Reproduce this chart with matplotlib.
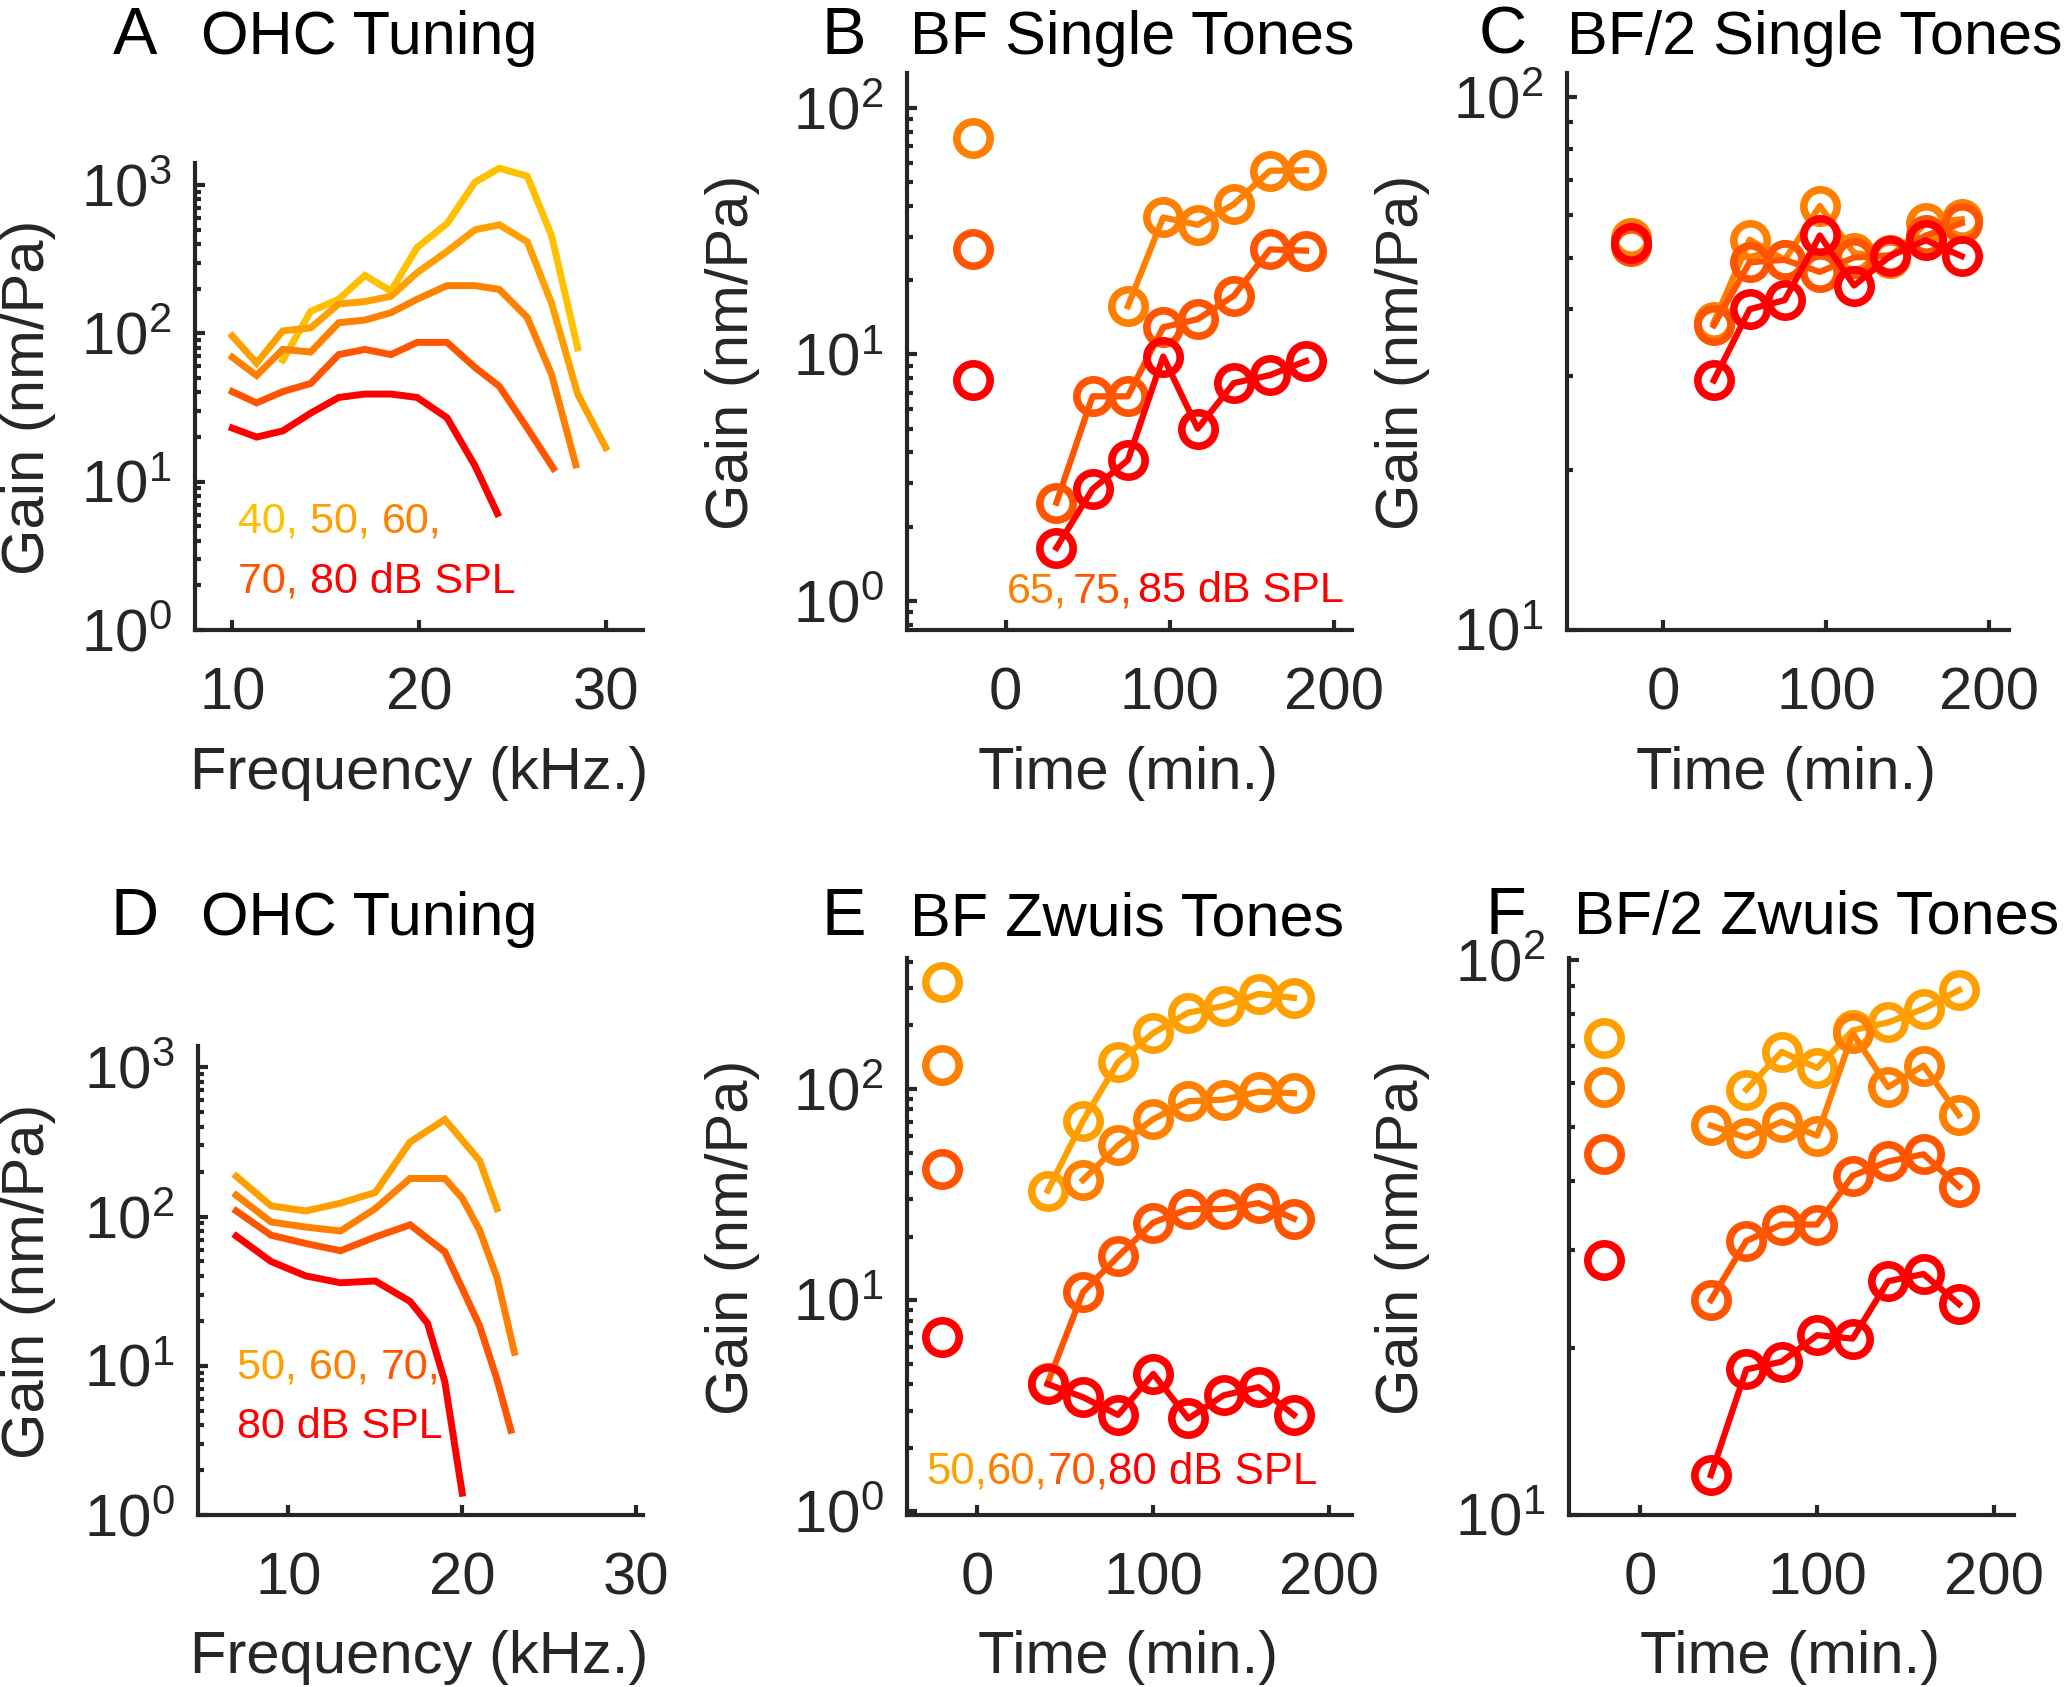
import matplotlib
matplotlib.use('Agg')
import matplotlib.pyplot as plt
from matplotlib.ticker import LogLocator, NullFormatter, FixedLocator

plt.rcParams['font.family'] = ['Liberation Sans', 'DejaVu Sans']
plt.rcParams['mathtext.fontset'] = 'custom'
plt.rcParams['mathtext.rm'] = 'Liberation Sans'
plt.rcParams['mathtext.it'] = 'Liberation Sans:italic'
plt.rcParams['mathtext.bf'] = 'Liberation Sans:bold'

# ---------------- colours ----------------
C40, C50, C60, C70, C80 = '#FFC000', '#FFA000', '#FF8000', '#FF5500', '#FF0000'

# ---------------- Panel A: OHC tuning (single tones) ----------------
freqA_40 = [12.7, 14.2, 15.7, 17.1, 18.5, 19.9, 21.5, 23.0, 24.3, 25.8, 27.1, 28.5]
gainA_40 = [66, 141, 170, 246, 193, 380, 550, 1045, 1300, 1150, 457, 80]
freqA_50 = [10, 11.3, 12.7, 14.2, 15.7, 17.1, 18.5, 19.9, 21.5, 23.0, 24.3, 25.8, 27.1, 28.5, 30.0]
gainA_50 = [96, 63, 104, 109, 158, 164, 178, 257, 357, 500, 540, 415, 160, 39, 17]
freqA_60 = [10, 11.3, 12.7, 14.2, 15.7, 17.1, 18.5, 19.9, 21.5, 23.0, 24.3, 25.8, 27.1, 28.4]
gainA_60 = [69, 52, 78, 75, 118, 123, 138, 170, 210, 210, 198, 128, 53, 13]
freqA_70 = [10, 11.3, 12.7, 14.2, 15.7, 17.1, 18.5, 19.9, 21.5, 23.0, 24.3, 25.8, 27.2]
gainA_70 = [40.5, 34, 40.5, 46, 72, 78, 72, 87, 87, 59, 44, 23, 12.3]
freqA_80 = [10, 11.3, 12.7, 14.2, 15.7, 17.1, 18.5, 19.9, 21.5, 23.0, 24.2]
gainA_80 = [23, 20, 22, 29, 37, 39, 39, 37, 27, 12.8, 6.1]

# ---------------- Panel D: OHC tuning (zwuis) ----------------
freqD_50 = [7, 9, 11, 13, 15, 17, 19, 21, 22]
gainD_50 = [186, 118, 109, 123, 145, 316, 447, 237, 113]
freqD_60 = [7, 9, 11, 13, 15, 17, 19, 20, 21, 22, 23]
gainD_60 = [139, 92, 85, 80, 113, 180, 180, 133, 81, 39, 12.3]
freqD_70 = [7, 9, 11, 13, 15, 17, 19, 20, 21, 22, 22.8]
gainD_70 = [109, 75, 66, 59, 73, 88, 58, 33, 18.5, 8.1, 3.7]
freqD_80 = [7, 9, 11, 13, 15, 17, 18, 19, 20]
gainD_80 = [74, 50, 40, 36, 37, 27, 19.3, 7.8, 1.4]

# ---------------- Panels B, C: single tones vs time ----------------
t_pre = -20
t_single = [31, 53, 74.5, 96, 117, 139, 161, 183]
B_65_pre, B_75_pre, B_85_pre = 76, 26.7, 7.84
B_65 = [None, None, 15.7, 36, 33.6, 40.7, 55.7, 56]
B_75 = [2.5, 6.76, 6.76, 12.9, 13.9, 17.3, 26.7, 26.4]
B_85 = [1.64, 2.84, 3.72, 9.8, 5.0, 7.65, 8.24, 9.4]

C_65_pre, C_75_pre, C_85_pre = 54.5, 52.6, 53.2
C_65 = [37.8, 54, 49.5, 62.5, 51, 50, 58, 59]
C_75 = [37.3, 49, 49.5, 47, 50, 50.5, 55, 58]
C_85 = [29.4, 40, 41.6, 55, 44.3, 50.3, 53.9, 50.3]

# ---------------- Panels E, F: zwuis tones vs time ----------------
t_zwuis = [40, 60, 80, 100, 120, 140, 160, 180]
E_50_pre, E_60_pre, E_70_pre, E_80_pre = 321, 130, 41.7, 6.7
E_50 = [33, 70.5, 134, 184, 230, 247, 282, 270]
E_60 = [None, 37, 54, 72, 87.5, 89, 97, 95.5]
E_70 = [4.05, 10.9, 16.1, 23.3, 27, 27, 28.8, 24.3]
E_80 = [4.0, 3.47, 2.86, 4.47, 2.75, 3.54, 3.87, 2.86]

F_50_pre, F_60_pre, F_70_pre, F_80_pre = 72.6, 59.1, 44.7, 28.8
F_50 = [None, 58.5, 68.4, 64, 74.8, 77.3, 81.8, 88.4]
F_60 = [50.4, 47.9, 51.2, 48.3, 73.9, 59.1, 64.6, 52.6]
F_70 = [24.4, 31.2, 33.4, 33.4, 40.9, 43.4, 44.7, 39.1]
F_80 = [11.8, 18.3, 18.9, 21.1, 20.8, 26.4, 27.2, 24]

# ---------------- figure ----------------
W, H = 2070, 1687
fig = plt.figure(figsize=(W / 100, H / 100), dpi=100)
GREY = '#262626'


def fx(x):
    return x / W


def fy(y):
    return 1 - y / H


def make_ax(x0, x1, ytop, ybot):
    return fig.add_axes([fx(x0), fy(ybot), (x1 - x0) / W, (ybot - ytop) / H])


def style(ax, xlim, ylim, xticks, yticks):
    ax.set_yscale('log')
    ax.set_xlim(*xlim)
    ax.set_ylim(*ylim)
    ax.patch.set_alpha(0)
    for s in ['top', 'right']:
        ax.spines[s].set_visible(False)
    for s in ['left', 'bottom']:
        ax.spines[s].set_linewidth(3)
        ax.spines[s].set_color(GREY)
    ax.xaxis.set_major_locator(FixedLocator(xticks))
    ax.yaxis.set_major_locator(FixedLocator(yticks))
    ax.yaxis.set_minor_locator(LogLocator(base=10, subs=range(2, 10), numticks=20))
    ax.yaxis.set_minor_formatter(NullFormatter())
    ax.tick_params(which='both', direction='in', colors=GREY, width=3)
    ax.tick_params(which='major', length=7, labelsize=43)
    ax.tick_params(which='minor', length=4)
    ax.tick_params(axis='x', pad=26)
    ax.tick_params(axis='y', pad=17)


def labels(ax, xlab, xpos, ypos):
    ax.set_xlabel(xlab, fontsize=43, color=GREY, va='baseline', ha='center')
    ax.xaxis.set_label_coords(fx(xpos[0]), fy(xpos[1]), transform=fig.transFigure)
    ax.set_ylabel('Gain (nm/Pa)', fontsize=43, color=GREY, va='center', ha='center')
    ax.yaxis.set_label_coords(fx(ypos[0]), fy(ypos[1]), transform=fig.transFigure)


def title(letter, text, xl, xt, y):
    fig.text(fx(xl), fy(y), letter, fontsize=48, color='black', ha='center', va='baseline')
    fig.text(fx(xt), fy(y), text, fontsize=44, color='black', ha='left', va='baseline')


def rainbow(ax, x, y, parts, colors, size=31, gap=0):
    t = ax.text(fx(x), fy(y), parts[0], color=colors[0], fontsize=size,
                ha='left', va='center', transform=fig.transFigure)
    for p, c in zip(parts[1:], colors[1:]):
        t = ax.annotate(p, xy=(1, 0.5), xycoords=t, xytext=(gap, 0),
                        textcoords='offset points', color=c, fontsize=size,
                        ha='left', va='center', annotation_clip=False)


LW = 5
MK = dict(marker='o', mfc='none', ms=24, mew=5.5)


def series(ax, t, vals, pre, color):
    pts = [(ti, v) for ti, v in zip(t, vals) if v is not None]
    ax.plot([p[0] for p in pts], [p[1] for p in pts], '-', color=color, lw=4.5, **MK)
    ax.plot([t_pre], [pre], linestyle='none', color=color, **MK)


ROW1_TOP_A, ROW1_TOP, ROW1_BOT = 163, 73, 630
ROW2_TOP_D, ROW2_TOP, ROW2_BOT = 1046, 958, 1515
XL1, XL2 = 789, 1673          # x-label baselines
T1, T2 = 54, 935              # title baselines

# ---- A ----
axA = make_ax(195, 643, ROW1_TOP_A, ROW1_BOT)
style(axA, (8, 32), (1, 1410), [10, 20, 30], [1, 10, 100, 1000])
for f, g, c in [(freqA_40, gainA_40, C40), (freqA_50, gainA_50, C50), (freqA_60, gainA_60, C60),
                (freqA_70, gainA_70, C70), (freqA_80, gainA_80, C80)]:
    axA.plot(f, g, color=c, lw=LW, solid_joinstyle='miter')
labels(axA, 'Frequency (kHz.)', (419, XL1), (29, 397))
title('A', 'OHC Tuning', 135, 201, T1)
rainbow(axA, 238, 522, ['40, ', '50, ', '60,'], [C40, C50, C60])
rainbow(axA, 238, 582, ['70, ', '80 dB SPL'], [C70, C80])

# ---- B ----
axB = make_ax(907, 1352, ROW1_TOP, ROW1_BOT)
style(axB, (-60, 211), (0.76, 139), [0, 100, 200], [1, 10, 100])
series(axB, t_single, B_65, B_65_pre, C60)
series(axB, t_single, B_75, B_75_pre, C70)
series(axB, t_single, B_85, B_85_pre, C80)
labels(axB, 'Time (min.)', (1128, XL1), (733, 352))
title('B', 'BF Single Tones', 844, 910, T1)
rainbow(axB, 1007, 591, ['65,', '75,', '85 dB SPL'], [C60, C70, C80], gap=4)

# ---- C ----
axC = make_ax(1567, 2009, ROW1_TOP, ROW1_BOT)
style(axC, (-59, 212), (10, 111), [0, 100, 200], [10, 100])
series(axC, t_single, C_65, C_65_pre, C60)
series(axC, t_single, C_75, C_75_pre, C70)
series(axC, t_single, C_85, C_85_pre, C80)
labels(axC, 'Time (min.)', (1786, XL1), (1402, 352))
title('C', 'BF/2 Single Tones', 1503, 1567, T1)

# ---- D ----
axD = make_ax(198, 643, ROW2_TOP_D, ROW2_BOT)
style(axD, (4.8, 30.4), (1, 1390), [10, 20, 30], [1, 10, 100, 1000])
for f, g, c in [(freqD_50, gainD_50, C50), (freqD_60, gainD_60, C60),
                (freqD_70, gainD_70, C70), (freqD_80, gainD_80, C80)]:
    axD.plot(f, g, color=c, lw=LW, solid_joinstyle='miter')
labels(axD, 'Frequency (kHz.)', (419, XL2), (29, 1281))
title('D', 'OHC Tuning', 135, 201, T2)
rainbow(axD, 237, 1368, ['50, ', '60, ', '70,'], [C50, C60, C70])
rainbow(axD, 237, 1427, ['80 dB SPL'], [C80])

# ---- E ----
axE = make_ax(907, 1352, ROW2_TOP, ROW2_BOT)
style(axE, (-40, 213), (0.96, 417), [0, 100, 200], [1, 10, 100])
series(axE, t_zwuis, E_50, E_50_pre, C50)
series(axE, t_zwuis, E_60, E_60_pre, C60)
series(axE, t_zwuis, E_70, E_70_pre, C70)
series(axE, t_zwuis, E_80, E_80_pre, C80)
labels(axE, 'Time (min.)', (1128, XL2), (733, 1237))
title('E', 'BF Zwuis Tones', 844, 910, T2)
rainbow(axE, 926, 1472, ['50,', '60,', '70,', '80 dB SPL'], [C50, C60, C70, C80], size=31.5)

# ---- F ----
axF = make_ax(1569, 2014, ROW2_TOP, ROW2_BOT)
style(axF, (-40, 211), (10, 101), [0, 100, 200], [10, 100])
series(axF, t_zwuis, F_50, F_50_pre, C50)
series(axF, t_zwuis, F_60, F_60_pre, C60)
series(axF, t_zwuis, F_70, F_70_pre, C70)
series(axF, t_zwuis, F_80, F_80_pre, C80)
labels(axF, 'Time (min.)', (1790, XL2), (1402, 1237))
title('F', 'BF/2 Zwuis Tones', 1506, 1574, T2 - 1)

fig.savefig('out.png', dpi=100, facecolor='white')
